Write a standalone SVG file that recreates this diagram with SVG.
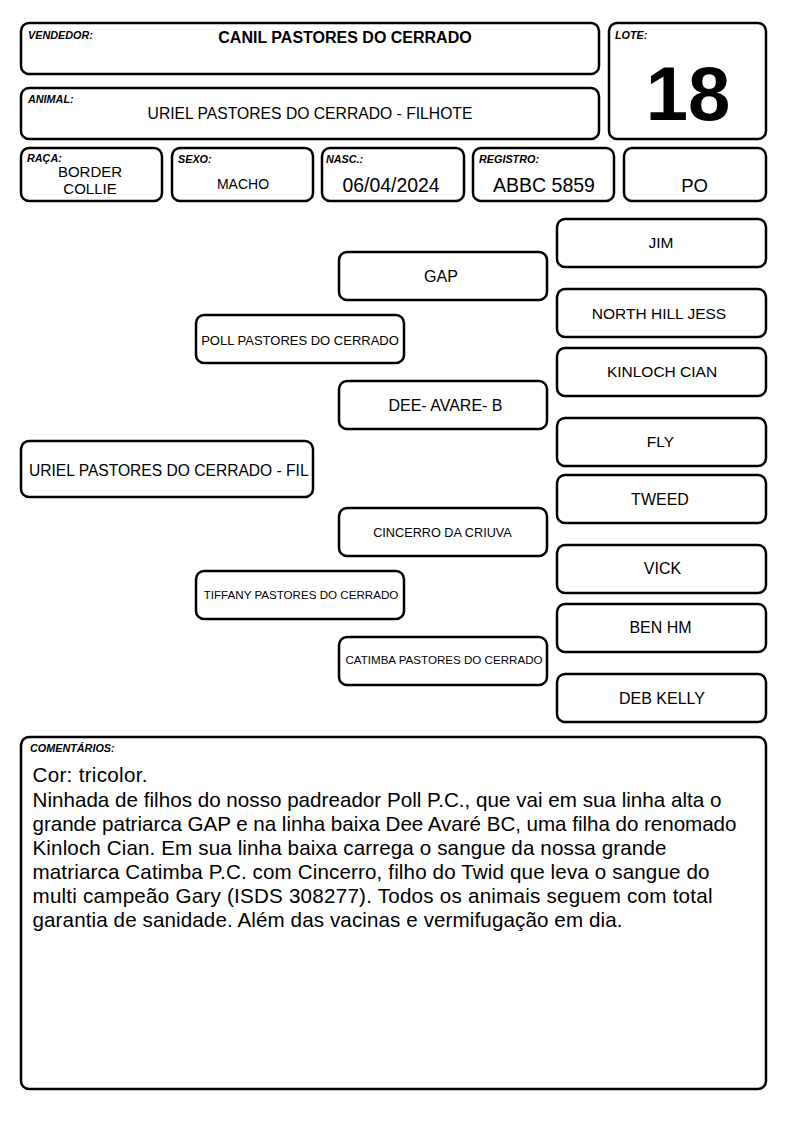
<svg xmlns="http://www.w3.org/2000/svg" width="794" height="1123" viewBox="0 0 794 1123">
<style>
.b{fill:#fff;stroke:#000;stroke-width:2.5}
.l{font-family:"Liberation Sans",Arial,sans-serif;font-size:10.8px;font-weight:bold;font-style:italic;fill:#000}
.t{font-family:"Liberation Sans",Arial,sans-serif;fill:#000;text-anchor:middle}
.c{font-family:"Liberation Sans",Arial,sans-serif;font-size:20.6px;fill:#000}
</style>
<rect width="794" height="1123" fill="#fff"/>
<g id="vendedor"><rect class="b" x="21" y="23" width="578" height="51" rx="8"/><text class="l" x="28" y="39">VENDEDOR:</text><text class="t" x="345" y="43" font-size="16" font-weight="bold">CANIL PASTORES DO CERRADO</text></g>
<g id="animal"><rect class="b" x="21" y="88" width="578" height="51" rx="8"/><text class="l" x="28" y="103">ANIMAL:</text><text class="t" x="310" y="119" font-size="15.7">URIEL PASTORES DO CERRADO - FILHOTE</text></g>
<g id="lote"><rect class="b" x="609" y="23" width="157" height="116" rx="8"/><text class="l" x="615" y="39">LOTE:</text><text class="t" x="688" y="120" font-size="76" font-weight="bold">18</text></g>
<g id="raca"><rect class="b" x="21" y="148" width="141" height="53" rx="8"/><text class="l" x="27" y="162">RAÇA:</text><text class="t" x="90" y="177" font-size="15">BORDER</text><text class="t" x="90" y="194" font-size="15">COLLIE</text></g>
<g id="sexo"><rect class="b" x="172" y="148" width="141" height="53" rx="8"/><text class="l" x="178" y="163">SEXO:</text><text class="t" x="243" y="189" font-size="14">MACHO</text></g>
<g id="nasc"><rect class="b" x="322" y="148" width="142" height="53" rx="8"/><text class="l" x="326" y="163">NASC.:</text><text class="t" x="391" y="192" font-size="19.4">06/04/2024</text></g>
<g id="registro"><rect class="b" x="473" y="148" width="141" height="53" rx="8"/><text class="l" x="479" y="163">REGISTRO:</text><text class="t" x="544" y="192" font-size="19.5">ABBC 5859</text></g>
<g id="po"><rect class="b" x="624" y="148" width="142" height="53" rx="8"/><text class="t" x="694.5" y="192" font-size="18.5">PO</text></g>
<g id="connectors"></g>
<g id="jim"><rect class="b" x="557" y="219" width="209" height="48" rx="8"/><text class="t" x="661" y="248" font-size="15.5">JIM</text></g>
<g id="gap"><rect class="b" x="339" y="252" width="208" height="48" rx="8"/><text class="t" x="441" y="282" font-size="16">GAP</text></g>
<g id="northhilljess"><rect class="b" x="557" y="289" width="209" height="48" rx="8"/><text class="t" x="659" y="319" font-size="15.5">NORTH HILL JESS</text></g>
<g id="poll"><rect class="b" x="196" y="315" width="208" height="48" rx="8"/><text class="t" x="300" y="345" font-size="13">POLL PASTORES DO CERRADO</text></g>
<g id="kinloch"><rect class="b" x="557" y="348" width="209" height="48" rx="8"/><text class="t" x="662" y="377" font-size="15.5">KINLOCH CIAN</text></g>
<g id="dee"><rect class="b" x="339" y="381" width="208" height="48" rx="8"/><text class="t" x="445.5" y="411" font-size="16">DEE- AVARE- B</text></g>
<g id="fly"><rect class="b" x="557" y="418" width="209" height="48" rx="8"/><text class="t" x="660.5" y="447" font-size="15.5">FLY</text></g>
<g id="uriel"><rect class="b" x="21" y="441" width="292" height="56" rx="8"/><text x="29" y="476" font-family="Liberation Sans,Arial,sans-serif" font-size="15.6">URIEL PASTORES DO CERRADO - FIL</text></g>
<g id="tweed"><rect class="b" x="557" y="475" width="209" height="48" rx="8"/><text class="t" x="660" y="505" font-size="16">TWEED</text></g>
<g id="cincerro"><rect class="b" x="339" y="508" width="208" height="48" rx="8"/><text class="t" x="442.5" y="537" font-size="12.7">CINCERRO DA CRIUVA</text></g>
<g id="vick"><rect class="b" x="557" y="545" width="209" height="48" rx="8"/><text class="t" x="662.5" y="574" font-size="16">VICK</text></g>
<g id="tiffany"><rect class="b" x="196" y="571" width="208" height="48" rx="8"/><text class="t" x="301" y="599" font-size="11.6">TIFFANY PASTORES DO CERRADO</text></g>
<g id="benhm"><rect class="b" x="557" y="604" width="209" height="48" rx="8"/><text class="t" x="660.5" y="633" font-size="16">BEN HM</text></g>
<g id="catimba"><rect class="b" x="339" y="637" width="208" height="48" rx="8"/><text class="t" x="444" y="664" font-size="11.6">CATIMBA PASTORES DO CERRADO</text></g>
<g id="debkelly"><rect class="b" x="557" y="674" width="209" height="48" rx="8"/><text class="t" x="662" y="704" font-size="16">DEB KELLY</text></g>
<g id="comentarios"><rect class="b" x="21" y="737" width="745" height="352" rx="8"/><text class="l" x="30" y="752" font-size="10">COMENTÁRIOS:</text>
<text class="c" x="32.5" y="782" textLength="115" lengthAdjust="spacing">Cor: tricolor.</text>
<text class="c" x="32.5" y="806.5" textLength="689" lengthAdjust="spacing">Ninhada de filhos do nosso padreador Poll P.C., que vai em sua linha alta o</text>
<text class="c" x="32.5" y="830.5" textLength="704" lengthAdjust="spacing">grande patriarca GAP e na linha baixa Dee Avaré BC, uma filha do renomado</text>
<text class="c" x="32.5" y="854.5" textLength="634" lengthAdjust="spacing">Kinloch Cian. Em sua linha baixa carrega o sangue da nossa grande</text>
<text class="c" x="32.5" y="878.5" textLength="677" lengthAdjust="spacing">matriarca Catimba P.C. com Cincerro, filho do Twid que leva o sangue do</text>
<text class="c" x="32.5" y="902.5" textLength="680" lengthAdjust="spacing">multi campeão Gary (ISDS 308277). Todos os animais seguem com total</text>
<text class="c" x="32.5" y="926.5" textLength="590" lengthAdjust="spacing">garantia de sanidade. Além das vacinas e vermifugação em dia.</text>
</g>
</svg>
